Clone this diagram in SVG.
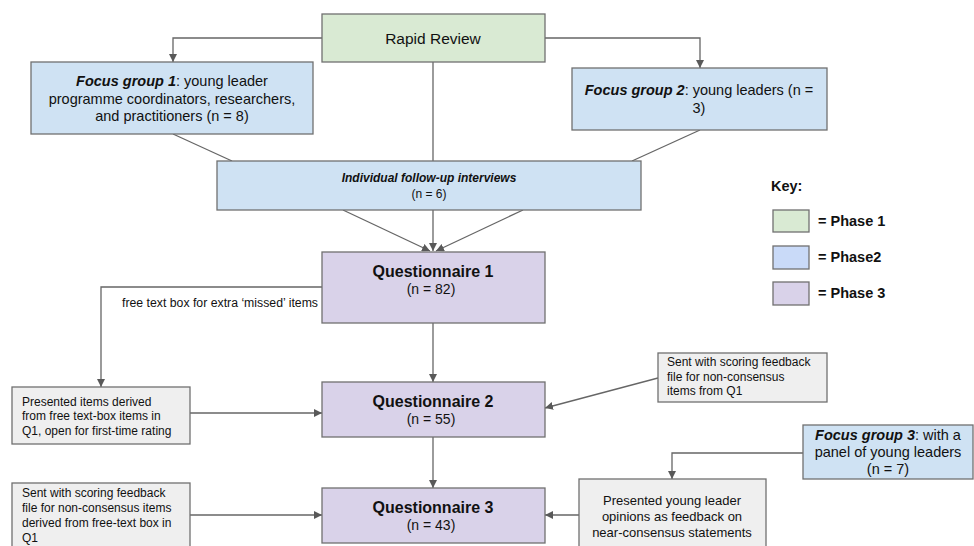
<svg xmlns="http://www.w3.org/2000/svg" width="974" height="546" viewBox="0 0 974 546">
<defs>
<marker id="ah" viewBox="0 0 10 10" refX="10" refY="5" markerWidth="8" markerHeight="8" markerUnits="userSpaceOnUse" orient="auto">
<path d="M0,0 L10,5 L0,10 z" fill="#595959"/>
</marker>
<style>
text{font-family:"Liberation Sans",Arial,sans-serif;fill:#111}
.box{stroke:#707070;stroke-width:1.3}
.g1{fill:#d9ead3}
.b{fill:#cfe2f3}
.p{fill:#d9d2e9}
.gr{fill:#efefef}
.kb{fill:#c9daf8}
.c{fill:none;stroke:#666;stroke-width:1.3}
.ca{fill:none;stroke:#666;stroke-width:1.3;marker-end:url(#ah)}
.t15{font-size:14.5px}
.t12{font-size:12px}
.q{font-size:16px;font-weight:bold}
.n{font-size:14px}
.k{font-size:14.5px;font-weight:bold}
</style>
</defs>
<rect width="974" height="546" fill="#fff"/>
<g id="connectors">
<path class="ca" d="M322,38 H173 V62"/>
<path class="ca" d="M545,38 H700 V68"/>
<path class="c" d="M433,62 V161"/>
<path class="c" d="M173,134 L232,161"/>
<path class="c" d="M700,130 L632,161"/>
<path class="ca" d="M343,210 L430,251"/>
<path class="ca" d="M433,210 V251"/>
<path class="ca" d="M523,210 L436,251"/>
<path class="ca" d="M322,287 H101 V387"/>
<path class="ca" d="M433,323 V382"/>
<path class="ca" d="M190,413 H322"/>
<path class="ca" d="M658,378 L545,408"/>
<path class="ca" d="M433,437 V488"/>
<path class="ca" d="M190,515 H322"/>
<path class="ca" d="M803,453 H672 V479"/>
<path class="ca" d="M579,515 H545"/>
</g>
<text class="t12" x="122" y="307" textLength="196" lengthAdjust="spacingAndGlyphs">free text  box for  extra ‘missed’ items</text>
<g id="rapid-review">
<rect class="box g1" x="322" y="14" width="223" height="48"/>
<text x="433" y="44" text-anchor="middle" font-size="15.5">Rapid Review</text>
</g>
<g id="focus-group-1">
<rect class="box b" x="31" y="62" width="282" height="72"/>
<text class="t15" x="172" y="86" text-anchor="middle"><tspan font-weight="bold" font-style="italic">Focus group 1</tspan>: young leader</text>
<text class="t15" x="172" y="104" text-anchor="middle">programme coordinators, researchers,</text>
<text class="t15" x="172" y="121" text-anchor="middle">and practitioners (n = 8)</text>
</g>
<g id="focus-group-2">
<rect class="box b" x="572" y="68" width="255" height="62"/>
<text class="t15" x="699" y="95" text-anchor="middle"><tspan font-weight="bold" font-style="italic">Focus group 2</tspan>: young leaders (n =</text>
<text class="t15" x="699" y="113" text-anchor="middle">3)</text>
</g>
<g id="interviews">
<rect class="box b" x="217" y="161" width="424" height="49"/>
<text class="t12" x="429" y="182" text-anchor="middle" font-weight="bold" font-style="italic">Individual follow-up interviews</text>
<text class="t12" x="429" y="198" text-anchor="middle">(n = 6)</text>
</g>
<g id="questionnaire-1">
<rect class="box p" x="322" y="252" width="223" height="71"/>
<text class="q" x="433" y="277" text-anchor="middle">Questionnaire 1</text>
<text class="n" x="431" y="294" text-anchor="middle">(n = 82)</text>
</g>
<g id="questionnaire-2">
<rect class="box p" x="322" y="382" width="223" height="55"/>
<text class="q" x="433" y="407" text-anchor="middle">Questionnaire 2</text>
<text class="n" x="431" y="424" text-anchor="middle">(n = 55)</text>
</g>
<g id="questionnaire-3">
<rect class="box p" x="322" y="488" width="223" height="55"/>
<text class="q" x="433" y="513" text-anchor="middle">Questionnaire 3</text>
<text class="n" x="431" y="530" text-anchor="middle">(n = 43)</text>
</g>
<g id="presented-items">
<rect class="box gr" x="12" y="387" width="178" height="57"/>
<text class="t12" x="22" y="406">Presented items derived</text>
<text class="t12" x="22" y="420">from free text-box  items in</text>
<text class="t12" x="22" y="435">Q1,  open for first-time rating</text>
</g>
<g id="sent-feedback-q2">
<rect class="box gr" x="658" y="353" width="169" height="49"/>
<text class="t12" x="667" y="366">Sent with scoring feedback</text>
<text class="t12" x="667" y="381">file for non-consensus</text>
<text class="t12" x="667" y="395">items from Q1</text>
</g>
<g id="sent-feedback-q3">
<rect class="box gr" x="12" y="483" width="178" height="66"/>
<text class="t12" x="22" y="497">Sent with scoring feedback</text>
<text class="t12" x="22" y="512">file for non-consensus items</text>
<text class="t12" x="22" y="527">derived from free-text  box in</text>
<text class="t12" x="22" y="542">Q1</text>
</g>
<g id="focus-group-3">
<rect class="box b" x="803" y="425" width="170" height="54"/>
<text class="t15" x="888" y="440" text-anchor="middle"><tspan font-weight="bold" font-style="italic">Focus group 3</tspan>: with a</text>
<text class="t15" x="888" y="457" text-anchor="middle">panel of young leaders</text>
<text class="t15" x="888" y="474" text-anchor="middle">(n = 7)</text>
</g>
<g id="young-leader-opinions">
<rect class="box gr" x="579" y="479" width="187" height="70"/>
<text x="672" y="505" text-anchor="middle" font-size="13">Presented young leader</text>
<text x="672" y="521" text-anchor="middle" font-size="13">opinions as feedback on</text>
<text x="672" y="537" text-anchor="middle" font-size="13">near-consensus statements</text>
</g>
<g id="key">
<text class="k" x="771" y="191">Key:</text>
<rect class="box g1" x="773" y="210" width="36" height="22"/>
<text class="k" x="818" y="226">= Phase 1</text>
<rect class="box kb" x="773" y="246" width="36" height="23"/>
<text class="k" x="818" y="262">= Phase2</text>
<rect class="box p" x="773" y="282" width="36" height="23"/>
<text class="k" x="818" y="298">= Phase 3</text>
</g>
</svg>
